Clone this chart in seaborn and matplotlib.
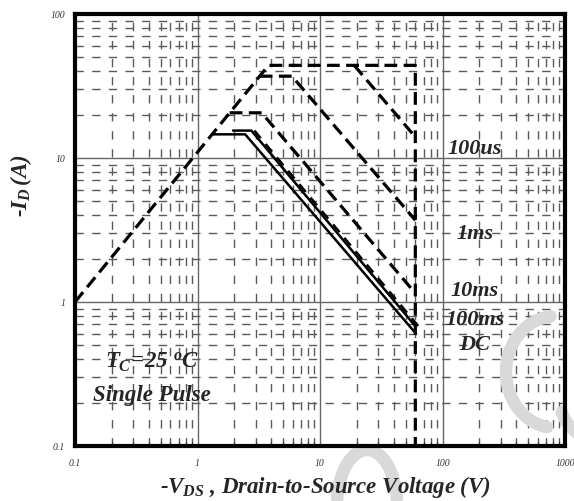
import numpy as np
import pandas as pd
import matplotlib
matplotlib.use("Agg")
import matplotlib.pyplot as plt
import matplotlib.transforms as mtransforms
from matplotlib.patches import Arc
import seaborn as sns

# Safe operating area curves (-VDS in volts, -ID in amps)
envelope_v = [0.1, 3.8, 60, 60]
envelope_i = [1.0, 44, 44, 0.1]
us100_v = [19, 60]
us100_i = [44, 14]
ms1_v = [3.22, 5.9, 60]
ms1_i = [37, 37, 3.7]
ms10_v = [1.83, 3.34, 60]
ms10_i = [20.6, 20.6, 1.15]
ms100_v = [1.95, 2.75, 60]
ms100_i = [15.5, 15.5, 0.68]
dc_v = [1.32, 2.45, 60]
dc_i = [14.6, 14.6, 0.61]

curve_labels = ["100us", "1ms", "10ms", "100ms", "DC"]
label_ypos = [11.6, 2.95, 1.19, 0.755, 0.50]

x_ticks = [0.1, 1, 10, 100, 1000]
x_ticklabels = ["0.1", "1", "10", "100", "1000"]
y_ticks = [0.1, 1, 10, 100]
y_ticklabels = ["0.1", "1", "10", "100"]

sns.set_theme(style="white")
plt.rcParams["font.family"] = ["Liberation Serif", "DejaVu Serif"]
plt.rcParams["mathtext.fontset"] = "custom"
plt.rcParams["mathtext.it"] = "Liberation Serif:bold:italic"
plt.rcParams["mathtext.rm"] = "Liberation Serif:bold:italic"
plt.rcParams["mathtext.bf"] = "Liberation Serif:bold:italic"

W, H = 574, 501
fig = plt.figure(figsize=(W / 100, H / 100), dpi=100)
ax = fig.add_axes([75 / W, 1 - 446 / H, 490 / W, 432 / H])
ax.set_xscale("log")
ax.set_yscale("log")
ax.set_xlim(0.1, 1000)
ax.set_ylim(0.1, 100)

# grid: solid decades, dashed minor lines
grid_col = "#5a5a5a"
for d in [1, 10, 100]:
    ax.axvline(d, color="#666666", lw=1.0, zorder=1)
for d in [1, 10]:
    ax.axhline(d, color="#666666", lw=1.0, zorder=1)
for dec in [0.1, 1, 10, 100]:
    for m in range(2, 10):
        ax.axvline(dec * m, color=grid_col, lw=1.0, ls=(0, (6, 7)), zorder=1)
for dec in [0.1, 1, 10]:
    for m in range(2, 10):
        ax.axhline(dec * m, color=grid_col, lw=1.0, ls=(0, (6, 6)), zorder=1)

dash = (0, (4, 2))
common = dict(estimator=None, sort=False, color="black", ax=ax, legend=False)
sns.lineplot(x=envelope_v, y=envelope_i, lw=2.3, ls=dash, zorder=4, **common)
sns.lineplot(x=us100_v, y=us100_i, lw=2.3, ls=dash, zorder=4, **common)
sns.lineplot(x=ms1_v, y=ms1_i, lw=2.3, ls=dash, zorder=4, **common)
sns.lineplot(x=ms10_v, y=ms10_i, lw=2.3, ls=dash, zorder=4, **common)
sns.lineplot(x=ms100_v, y=ms100_i, lw=1.8, zorder=4, **common)
# companion dashed stroke alongside the 100ms curve
shift = mtransforms.offset_copy(ax.transData, fig=fig, x=3.0, y=0.0, units="dots")
sns.lineplot(x=ms100_v[1:], y=ms100_i[1:], lw=1.8, ls=(0, (4, 3)), zorder=4,
             transform=shift, **common)
sns.lineplot(x=dc_v, y=dc_i, lw=1.8, zorder=4, **common)

# faint logo watermark strokes (figure pixel coordinates, origin top-left)
def wm_arc(cx, cy, w, h, t1, t2):
    ax.add_patch(Arc((cx / W, 1 - cy / H), w / W, h / H, theta1=t1, theta2=t2,
                     transform=fig.transFigure, color="#d9d9d9", lw=9,
                     zorder=2, clip_on=False, capstyle="round"))

wm_arc(556, 372, 100, 112, 95, 262)
wm_arc(600, 400, 80, 80, 200, 250)
wm_arc(367, 505, 60, 110, 15, 165)

for lab, yv in zip(curve_labels, label_ypos):
    ax.text(184, yv, lab, fontsize=16, fontweight="bold", style="italic",
            ha="center", va="center", zorder=6)

ax.text(0.425, 0.383, r"$T_C\!=\!25\ ^{o}C$", fontsize=16.5, ha="center", va="center", zorder=6)
ax.text(0.425, 0.225, "Single Pulse", fontsize=16.5, fontweight="bold", style="italic",
        ha="center", va="center", zorder=6)

# ticks
ax.set_xticks(x_ticks)
ax.set_xticklabels(x_ticklabels)
ax.set_yticks(y_ticks)
ax.set_yticklabels(y_ticklabels)
ax.tick_params(axis="x", which="major", length=0, labelsize=7, pad=9)
ax.tick_params(axis="y", which="major", length=0, labelsize=7, pad=7)
ax.tick_params(axis="x", which="minor", bottom=True, direction="in", length=3, width=0.8)
ax.tick_params(axis="y", which="minor", left=False)
ax.xaxis.set_zorder(3)
ax.yaxis.set_zorder(3)
for lab in ax.get_xticklabels() + ax.get_yticklabels():
    lab.set_fontstyle("italic")
    lab.set_color("#333333")

for s in ax.spines.values():
    s.set_visible(True)
    s.set_color("black")
    s.set_linewidth(3.0)
    s.set_zorder(7)

fig.text(326 / W, 1 - 487 / H, r"-$V_{DS}$ , Drain-to-Source Voltage (V)",
         fontsize=16.5, fontweight="bold", style="italic", ha="center", va="center", zorder=8)
fig.text(21 / W, 1 - 186 / H, r"-$I_D\,(A)$", fontsize=16.5, rotation=90,
         fontweight="bold", style="italic", ha="center", va="center")

fig.savefig("out.png", dpi=100, facecolor="white")
